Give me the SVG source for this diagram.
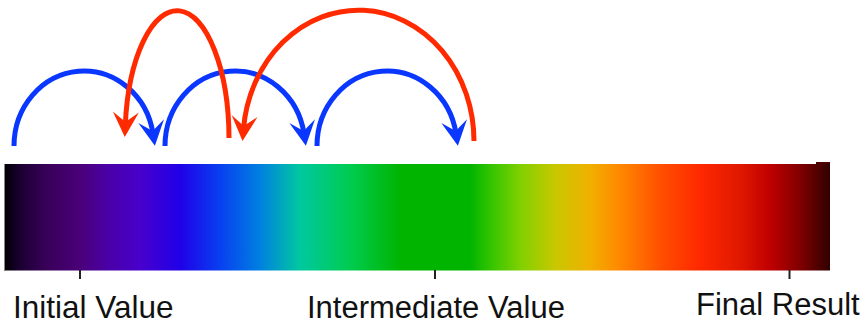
<svg xmlns="http://www.w3.org/2000/svg" width="865" height="324" viewBox="0 0 865 324">
<style>
.blue{fill:none;stroke:#0a37ff;stroke-width:5;marker-end:url(#ab)}
.red{fill:none;stroke:#ff2a00;stroke-width:5;marker-end:url(#ar)}
.tick{stroke:#222;stroke-width:2}
.lbl{font-family:"Liberation Sans",Arial,sans-serif;fill:#111}
</style>
<defs>
<linearGradient id="spec" x1="4" y1="0" x2="830" y2="0" gradientUnits="userSpaceOnUse">
<stop offset="0" stop-color="#000000"/>
<stop offset="0.019" stop-color="#1a0030"/>
<stop offset="0.05" stop-color="#380058"/>
<stop offset="0.092" stop-color="#4a0078"/>
<stop offset="0.128" stop-color="#4a00a8"/>
<stop offset="0.165" stop-color="#4800cc"/>
<stop offset="0.213" stop-color="#2000e8"/>
<stop offset="0.262" stop-color="#0840f0"/>
<stop offset="0.31" stop-color="#0080e0"/>
<stop offset="0.358" stop-color="#00c8a0"/>
<stop offset="0.419" stop-color="#00cc50"/>
<stop offset="0.48" stop-color="#00b400"/>
<stop offset="0.564" stop-color="#00b400"/>
<stop offset="0.588" stop-color="#30c400"/>
<stop offset="0.625" stop-color="#80d000"/>
<stop offset="0.667" stop-color="#c8c800"/>
<stop offset="0.709" stop-color="#f0b000"/>
<stop offset="0.746" stop-color="#ff8800"/>
<stop offset="0.794" stop-color="#ff5000"/>
<stop offset="0.843" stop-color="#ff2800"/>
<stop offset="0.891" stop-color="#e01800"/>
<stop offset="0.927" stop-color="#c00000"/>
<stop offset="0.964" stop-color="#800000"/>
<stop offset="1" stop-color="#300000"/>
</linearGradient>
<marker id="ab" markerUnits="userSpaceOnUse" markerWidth="30" markerHeight="30" viewBox="0 -15 30 30" refX="13" refY="0" orient="auto" overflow="visible">
<path d="M25,0 L0,-13 L10,0 L0,13 Z" fill="#0a37ff"/>
</marker>
<marker id="ar" markerUnits="userSpaceOnUse" markerWidth="30" markerHeight="30" viewBox="0 -15 30 30" refX="13" refY="0" orient="auto" overflow="visible">
<path d="M25,0 L0,-13 L10,0 L0,13 Z" fill="#ff2a00"/>
</marker>
</defs>
<g id="bar">
<rect x="816" y="162" width="14" height="3" fill="#4a0000"/>
<rect x="4" y="164" width="826" height="106.5" fill="url(#spec)"/>
<line x1="4.5" y1="164" x2="4.5" y2="270.5" stroke="#888" stroke-width="1"/>
</g>
<g id="ticks">
<line class="tick" x1="80" y1="270" x2="80" y2="279"/>
<line class="tick" x1="435" y1="270" x2="435" y2="279"/>
<line class="tick" x1="789.5" y1="270" x2="789.5" y2="279"/>
</g>
<g id="label-initial"><text class="lbl" x="13" y="318" font-size="31.5">Initial Value</text></g>
<g id="label-intermediate"><text class="lbl" x="307" y="318" font-size="31">Intermediate Value</text></g>
<g id="label-final"><text class="lbl" x="696" y="315" font-size="31">Final Result</text></g>
<g id="connectors">
<path class="blue" d="M14,146 A70,75 0 0 1 153.1,134"/>
<path class="blue" d="M165,146 A70,75 0 0 1 304.1,134"/>
<path class="blue" d="M317,146 A70,75 0 0 1 456.1,134"/>
<path class="red" d="M229,138 A52,128 0 0 0 125.3,125"/>
<path class="red" d="M474,141 A115.5,131 0 0 0 243.5,129"/>
</g>
</svg>
